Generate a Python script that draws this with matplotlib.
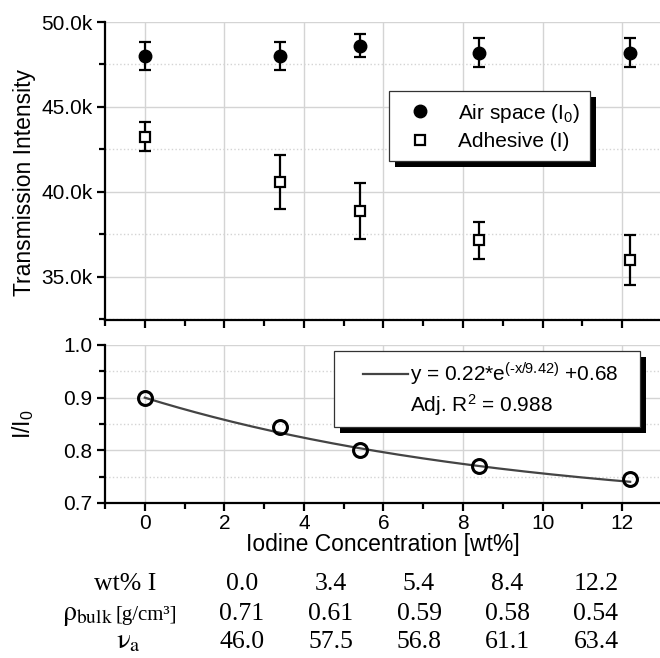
import matplotlib
matplotlib.use("Agg")
import matplotlib.pyplot as plt
import numpy as np
from matplotlib.ticker import MultipleLocator, FuncFormatter
from matplotlib.lines import Line2D
from matplotlib.patches import Rectangle
from matplotlib.legend_handler import HandlerLine2D

plt.rcParams['font.family'] = ['Liberation Sans', 'DejaVu Sans']
plt.rcParams['mathtext.fontset'] = 'custom'
plt.rcParams['mathtext.rm'] = 'Liberation Sans'
plt.rcParams['mathtext.it'] = 'Liberation Sans:italic'
plt.rcParams['mathtext.bf'] = 'Liberation Sans:bold'

# ---------------------------
# Data
# ---------------------------
conc = [0.0, 3.4, 5.4, 8.4, 12.2]             # iodine wt%
air = [48.0, 48.0, 48.6, 48.2, 48.2]          # air space I0 (k counts)
air_err = [0.85, 0.85, 0.67, 0.85, 0.85]
adh = [43.25, 40.6, 38.9, 37.15, 36.0]        # adhesive I (k counts)
adh_err = [0.85, 1.6, 1.65, 1.08, 1.47]
ratio = [0.90, 0.845, 0.80, 0.77, 0.745]      # I / I0
fit_a, fit_t, fit_c = 0.22, 9.42, 0.68        # y = a*exp(-x/t) + c

row_wt = ['0.0', '3.4', '5.4', '8.4', '12.2']
row_rho = ['0.71', '0.61', '0.59', '0.58', '0.54']
row_nu = ['46.0', '57.5', '56.8', '61.1', '63.4']

W, H = 660, 658
fig = plt.figure(figsize=(W / 100, H / 100), dpi=100)

ax1 = fig.add_axes([105 / W, 1 - 320 / H, 555 / W, 298 / H])
ax2 = fig.add_axes([105 / W, 1 - 503 / H, 555 / W, 158 / H])


def style_axes(ax):
    for s in ['top', 'right']:
        ax.spines[s].set_visible(False)
    for s in ['left', 'bottom']:
        ax.spines[s].set_linewidth(1.6)
    ax.tick_params(which='both', direction='out', width=1.6, labelsize=15)
    ax.tick_params(which='major', length=6)
    ax.tick_params(which='minor', length=4)
    ax.tick_params(axis='x', pad=2)
    ax.tick_params(axis='y', pad=3)
    ax.set_xlim(-1, 12.95)
    ax.xaxis.set_major_locator(MultipleLocator(2))
    ax.xaxis.set_minor_locator(MultipleLocator(1))
    ax.grid(True, which='major', color='#d4d4d4', lw=1.0)
    ax.grid(True, which='minor', axis='y', color='#d4d4d4', lw=1.0, ls=':')
    ax.set_axisbelow(True)


def add_shadow(ax, leg):
    bb = leg.get_window_extent()
    sh = Rectangle((bb.x0 + 6, bb.y0 - 6), bb.width, bb.height, transform=None,
                   facecolor='black', edgecolor='none', zorder=leg.get_zorder() - 0.1)
    ax.add_artist(sh)


# Subplot 1: transmission intensity
style_axes(ax1)
ax1.errorbar(conc, air, yerr=air_err, fmt='o', color='black', ms=9,
             capsize=4, elinewidth=1.6, capthick=1.6, label='Air space (I$_0$)')
ax1.errorbar(conc, adh, yerr=adh_err, fmt='s', color='black', mfc='white',
             mec='black', ms=6.5, mew=1.6, capsize=4, elinewidth=1.6,
             capthick=1.6, label='Adhesive (I)')
ax1.set_ylim(32.47, 50)
ax1.yaxis.set_major_locator(MultipleLocator(5))
ax1.yaxis.set_minor_locator(MultipleLocator(2.5))
ax1.yaxis.set_major_formatter(FuncFormatter(lambda v, p: f'{v:.1f}k'))
ax1.tick_params(axis='x', labelbottom=False)
ax1.set_ylabel('Transmission Intensity', fontsize=16.5)
ax1.yaxis.set_label_coords(-0.125, 0.46)

h, l = ax1.get_legend_handles_labels()
h = [hh[0] for hh in h]
leg1 = ax1.legend(h, l, loc='upper left', bbox_to_anchor=(0.512, 0.768),
                  fontsize=15, frameon=True, fancybox=False, framealpha=1,
                  borderpad=0.5, handlelength=2.0, handletextpad=0.8,
                  labelspacing=0.35, borderaxespad=0)
leg1.get_frame().set_edgecolor('#333333')
leg1.get_frame().set_linewidth(0.9)

# Subplot 2: I/I0 with exponential fit
style_axes(ax2)
xf = np.linspace(conc[0], conc[-1], 200)
fit_line, = ax2.plot(xf, fit_a * np.exp(-xf / fit_t) + fit_c, color='#444444', lw=1.6)
ax2.plot(conc, ratio, 'o', mfc='none', mec='black', ms=10, mew=2.2, zorder=3)
ax2.set_ylim(0.7, 1.0)
ax2.yaxis.set_major_locator(MultipleLocator(0.1))
ax2.yaxis.set_minor_locator(MultipleLocator(0.05))
ax2.yaxis.set_major_formatter(FuncFormatter(lambda v, p: f'{v:.1f}'))
ax2.set_ylabel('I/I$_0$', fontsize=16.5)
ax2.yaxis.set_label_coords(-0.125, 0.5)
ax2.set_xlabel('Iodine Concentration [wt%]', fontsize=16.5)
ax2.xaxis.set_label_coords(0.5, -0.19)

blank = Line2D([], [], linestyle='none')
leg2 = ax2.legend([fit_line, blank],
                  [r'y = 0.22*e$^{\text{(-x/9.42)}}$ +0.68' + '\u00a0\u00a0\u00a0',
                   r'Adj. R$^2$ = 0.988'],
                  loc='upper left', bbox_to_anchor=(0.4126, 0.962), fontsize=15,
                  frameon=True, fancybox=False, framealpha=1, borderpad=0.45,
                  handlelength=3.1, handletextpad=0.1, labelspacing=0.2,
                  borderaxespad=0, handler_map={fit_line: HandlerLine2D(xpad=0.95)})
leg2.get_frame().set_edgecolor('#333333')
leg2.get_frame().set_linewidth(0.9)

# black drop shadows behind the legends
fig.canvas.draw()
add_shadow(ax1, leg1)
add_shadow(ax2, leg2)

# table under the chart
serif = dict(family='Liberation Serif', math_fontfamily='stix', va='baseline')
col_x = [242, 331, 419, 507, 596]
row_y = [590, 620, 648]
fig.text(125 / W, 1 - row_y[0] / H, 'wt% I', ha='center', fontsize=18.5, **serif)
fig.text(113 / W, 1 - row_y[1] / H, r'$\mathrm{\rho}_{\mathrm{bulk}}$', ha='right',
         fontsize=20, **serif)
fig.text(115 / W, 1 - row_y[1] / H, '[g/cm³]', ha='left', fontsize=15, **serif)
fig.text(128 / W, 1 - row_y[2] / H, r'$\mathrm{\nu}_{\mathrm{a}}$', ha='center',
         fontsize=21, **serif)
for vals, y in zip([row_wt, row_rho, row_nu], row_y):
    for x, v in zip(col_x, vals):
        fig.text(x / W, 1 - y / H, v, ha='center', fontsize=18.5, **serif)

fig.savefig('out.png', dpi=100)
